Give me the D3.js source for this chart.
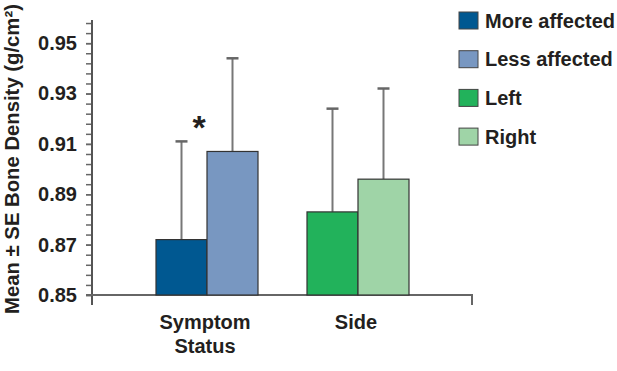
<!DOCTYPE html>
<html>
<head>
<meta charset="utf-8">
<script src="https://cdn.jsdelivr.net/npm/d3@7"></script>
<style>
  body { margin: 0; background: #fff; }
  text { font-family: "Liberation Sans", Arial, sans-serif; font-weight: bold; fill: #231f20; }
</style>
</head>
<body>
<script>

var groups = ["Symptom Status", "Side"]
var groupLines = [["Symptom", "Status"], ["Side"]]
var seriesNames = ["More affected", "Less affected", "Left", "Right"]
var seriesGroup = [0, 0, 1, 1]
var seriesSlot = [0, 1, 0, 1]
var means = [0.872, 0.907, 0.883, 0.896]
var se = [0.039, 0.037, 0.041, 0.036]
var colors = ["#005891", "#7897c1", "#22b25b", "#9fd4a7"]
var yLabels = [0.85, 0.87, 0.89, 0.91, 0.93, 0.95]

var width = 617, height = 371

var svg = d3.select("body")
  .append("svg")
    .attr("width", width)
    .attr("height", height)

/******** Scales *********/

var y = d3.scaleLinear()
  .domain([0.85, 0.96])
  .range([295, 18])

var x0 = d3.scaleBand()
  .domain(groups)
  .range([156, 409])
  .paddingInner(0.3245)

var x1 = d3.scaleBand()
  .domain([0, 1])
  .range([0, x0.bandwidth()])

function barX(i) {
  return x0(groups[seriesGroup[i]]) + x1(seriesSlot[i])
}

/******** Axis *********/

var minorTicks = d3.range(0, 28).map(function(i){ return 0.85 + i * 0.004 })

svg.append("g")
    .attr("transform", "translate(92,0)")
    .call(d3.axisLeft(y).tickValues(minorTicks).tickSize(6).tickFormat(""))
    .call(function(g){ g.select(".domain").remove() })
    .selectAll("line")
      .attr("stroke", "#666")
      .attr("stroke-width", 1.5)

svg.append("g")
    .attr("transform", "translate(92,0)")
    .call(d3.axisLeft(y).tickValues(yLabels).tickSize(6).tickPadding(9).tickFormat(d3.format(".2f")))
    .call(function(g){ g.select(".domain").remove() })
    .call(function(g){ g.selectAll("line").attr("stroke", "#666").attr("stroke-width", 1.5) })
    .selectAll("text")
      .attr("font-size", "20px")
      .attr("font-family", "Liberation Sans, Arial, sans-serif")
      .attr("font-weight", "bold")
      .attr("fill", "#231f20")

// vertical axis line, running a bit below the baseline
svg.append("line")
    .attr("x1", 92).attr("x2", 92)
    .attr("y1", y.range()[1] + 2).attr("y2", y(0.85) + 10)
    .attr("stroke", "#555")
    .attr("stroke-width", 2)

// baseline with a closing tick on the right
svg.append("path")
    .attr("d", "M86," + y(0.85) + "H472V" + (y(0.85) + 10))
    .attr("fill", "none")
    .attr("stroke", "#666")
    .attr("stroke-width", 2)

/******** Error bars *********/

var err = svg.selectAll("g.err")
  .data(means)
  .enter()
  .append("g")
    .attr("class", "err")

err.append("line")
    .attr("x1", function(d, i){ return barX(i) + x1.bandwidth() / 2 })
    .attr("x2", function(d, i){ return barX(i) + x1.bandwidth() / 2 })
    .attr("y1", function(d){ return y(d) })
    .attr("y2", function(d, i){ return y(d + se[i]) })
    .attr("stroke", "#777")
    .attr("stroke-width", 2)

err.append("line")
    .attr("x1", function(d, i){ return barX(i) + x1.bandwidth() / 2 - 6 })
    .attr("x2", function(d, i){ return barX(i) + x1.bandwidth() / 2 + 6 })
    .attr("y1", function(d, i){ return y(d + se[i]) })
    .attr("y2", function(d, i){ return y(d + se[i]) })
    .attr("stroke", "#666")
    .attr("stroke-width", 2.5)

/******** Bars *********/

svg.selectAll("rect.bar")
  .data(means)
  .enter()
  .append("rect")
    .attr("class", "bar")
    .attr("x", function(d, i){ return barX(i) })
    .attr("width", x1.bandwidth())
    .attr("y", function(d){ return y(d) })
    .attr("height", function(d){ return y(0.85) - y(d) })
    .attr("fill", function(d, i){ return colors[i] })
    .attr("stroke", "#333")
    .attr("stroke-width", 1.2)

// significance mark
svg.append("text")
    .attr("x", x0(groups[0]) + x1.bandwidth() - 8)
    .attr("y", 139)
    .attr("text-anchor", "middle")
    .attr("font-size", "34px")
    .attr("font-weight", "normal")
    .text("*")

/******** Category labels *********/

svg.selectAll("text.cat")
  .data(groups)
  .enter()
  .append("text")
    .attr("class", "cat")
    .attr("text-anchor", "middle")
    .attr("font-size", "20px")
    .attr("transform", function(d){ return "translate(" + (x0(d) + x0.bandwidth() / 2 - 2) + ",329)" })
  .selectAll("tspan")
    .data(function(d, i){ return groupLines[i] })
    .enter()
    .append("tspan")
      .attr("x", 0)
      .attr("dy", function(d, i){ return i === 0 ? 0 : 24 })
      .text(function(d){ return d })

/******** Y title *********/

svg.append("text")
    .attr("transform", "translate(18.5,159) rotate(-90)")
    .attr("text-anchor", "middle")
    .attr("font-size", "20.3px")
    .text("Mean ± SE Bone Density (g/cm²)")

/******** Legend *********/

var legend = svg.selectAll("g.legend")
  .data(seriesNames)
  .enter()
  .append("g")
    .attr("class", "legend")
    .attr("transform", function(d, i){ return "translate(459," + (12 + i * 38.7) + ")" })

legend.append("rect")
    .attr("width", 19)
    .attr("height", 17)
    .attr("fill", function(d, i){ return colors[i] })
    .attr("stroke", "#444")
    .attr("stroke-width", 1)

legend.append("text")
    .attr("x", 26)
    .attr("y", 8.5)
    .attr("dy", "0.36em")
    .attr("font-size", "20px")
    .text(function(d){ return d })

</script>
</body>
</html>
